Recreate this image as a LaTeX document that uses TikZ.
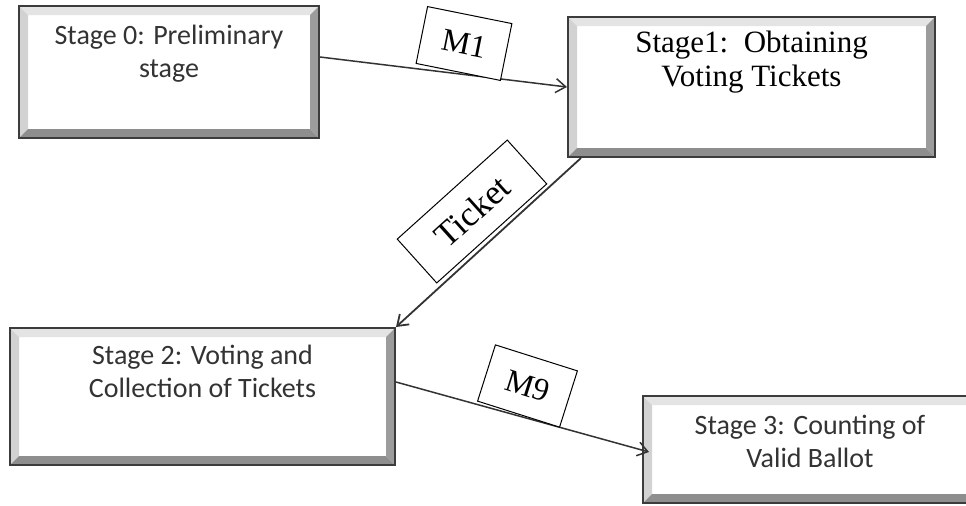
\documentclass[tikz,border=0pt]{standalone}
\usepackage{fontspec}
\setmainfont{Liberation Serif}
\newfontfamily\calfont{Carlito}
\usetikzlibrary{positioning,arrows.meta}
\definecolor{boxline}{HTML}{3C3C3C}
\definecolor{bevtop}{HTML}{E4E4E4}
\definecolor{bevleft}{HTML}{D2D2D2}
\definecolor{bevright}{HTML}{9C9C9C}
\definecolor{bevbottom}{HTML}{8E8E8E}
\tikzset{
  stagebox/.style={draw=boxline, line width=1pt, fill=white, inner sep=0pt,
    path picture={
      \coordinate (nw) at (path picture bounding box.north west);
      \coordinate (ne) at (path picture bounding box.north east);
      \coordinate (sw) at (path picture bounding box.south west);
      \coordinate (se) at (path picture bounding box.south east);
      \fill[bevtop] (nw) -- (ne) -- ([shift={(-4.5pt,-4.5pt)}]ne) -- ([shift={(4.5pt,-4.5pt)}]nw) -- cycle;
      \fill[bevleft] (nw) -- (sw) -- ([shift={(4.5pt,4.5pt)}]sw) -- ([shift={(4.5pt,-4.5pt)}]nw) -- cycle;
      \fill[bevright] (ne) -- (se) -- ([shift={(-4.5pt,4.5pt)}]se) -- ([shift={(-4.5pt,-4.5pt)}]ne) -- cycle;
      \fill[bevbottom] (sw) -- (se) -- ([shift={(-4.5pt,4.5pt)}]se) -- ([shift={(4.5pt,4.5pt)}]sw) -- cycle;
    }},
  stagetext/.style={font=\calfont\fontsize{14}{16.5}\selectfont, text=black!80, align=center, inner sep=0pt},
  flow/.style={draw=black!80, line width=0.75pt, -{Straight Barb[length=5pt,width=7pt]}},
  msgbox/.style={draw, line width=0.5pt, fill=white, inner sep=0pt, font=\fontsize{16}{18}\selectfont}
}
\begin{document}
\begin{tikzpicture}[x=0.5pt, y=-0.5pt]
    \useasboundingbox (0,0) rectangle (966,505);
    \clip (0,0) rectangle (966,505);
    \node[stagebox, minimum width=150pt, minimum height=66pt] (s0) at (169,72) {};
    \node[stagebox, minimum width=183.5pt, minimum height=70pt] (s1) at (751.5,87) {};
    \node[stagebox, minimum width=192.5pt, minimum height=68.5pt] (s2) at (202.5,396.5) {};
    \node[stagebox, minimum width=167pt, minimum height=53.5pt] (s3) at (810,449.5) {};
    \node[stagetext, below=10pt of s0.north] (t0) {Stage 0: Preliminary\\stage};
    \node[stagetext, font=\fontsize{15.5}{17}\selectfont, text=black, below=7.5pt of s1.north] (t1) {Stage1:\, Obtaining\\Voting Tickets};
    \node[stagetext, below=9pt of s2.north] (t2) {Stage 2: Voting and\\Collection of Tickets};
    \node[stagetext, below=10pt of s3.north] (t3) {Stage 3: Counting of\\Valid Ballot};
    \draw[flow] ([yshift=7.5pt]s0.east) -- (s1.west);
    \draw[flow, line width=0.9pt] ([xshift=7pt]s1.south west) -- (s2.north east);
    \draw[flow] ([yshift=7.25pt]s2.east) -- ([xshift=3.5pt,yshift=-1.25pt]s3.west);
    \node[msgbox, minimum width=43pt, minimum height=29pt, rotate=-11.4] (m1) at (464,43.5) {M1};
    \node[msgbox, minimum width=74pt, minimum height=29.5pt, rotate=42, font=\fontsize{17.5}{19}\selectfont] (tk) at (472,211.5) {Ticket};
    \node[msgbox, minimum width=43pt, minimum height=29.5pt, rotate=-17.6] (m9) at (527.5,386) {M9};
\end{tikzpicture}
\end{document}
